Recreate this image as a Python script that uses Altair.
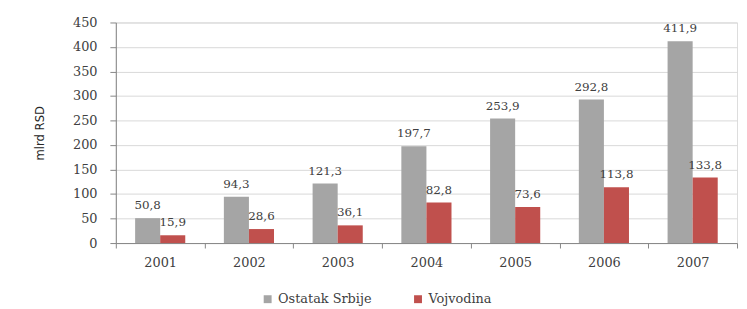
import altair as alt
import pandas as pd

years = ["2001", "2002", "2003", "2004", "2005", "2006", "2007"]
ostatak_srbije = [50.8, 94.3, 121.3, 197.7, 253.9, 292.8, 411.9]
vojvodina = [15.9, 28.6, 36.1, 82.8, 73.6, 113.8, 133.8]
series_names = ["Ostatak Srbije", "Vojvodina"]
series_colors = ["#A5A5A5", "#C0504D"]
y_ticks = [0, 50, 100, 150, 200, 250, 300, 350, 400, 450]
y_title = "mlrd RSD"

rows = []
for i, yr in enumerate(years):
    rows.append({"year": yr, "series": series_names[0], "value": ostatak_srbije[i]})
    rows.append({"year": yr, "series": series_names[1], "value": vojvodina[i]})
df = pd.DataFrame(rows)

serif = "DejaVu Serif"
axis_gray = "#868686"
text_col = "#404040"

x_enc = alt.X(
    "year:N", sort=years, title=None,
    scale=alt.Scale(paddingInner=0, paddingOuter=0),
    axis=alt.Axis(labelAngle=0, labelFont=serif, labelFontSize=13, labelColor=text_col,
                  labelPadding=9, tickBand="extent", tickSize=5, tickColor=axis_gray,
                  domainColor=axis_gray, grid=False),
)
xoff_enc = alt.XOffset("series:N", sort=series_names,
                       scale=alt.Scale(paddingInner=0, paddingOuter=0.77))
y_enc = alt.Y(
    "value:Q", title=y_title,
    scale=alt.Scale(domain=[0, 450], nice=False),
    axis=alt.Axis(values=y_ticks, labelFont=serif, labelFontSize=13, labelColor=text_col,
                  tickSize=6, labelPadding=13, tickColor=axis_gray, domainColor=axis_gray,
                  gridColor="#D9D9D9", titleFont="DejaVu Sans Condensed",
                  titleFontSize=13, titleFontWeight="normal", titleColor="#262626", titlePadding=26),
)
color_enc = alt.Color(
    "series:N", sort=series_names,
    scale=alt.Scale(domain=series_names, range=series_colors),
    legend=alt.Legend(title=None, orient="none", legendX=147, legendY=273, direction="horizontal",
                      symbolType="square", symbolSize=64, symbolStrokeWidth=0,
                      labelFont=serif, labelFontSize=13, labelColor=text_col, columnPadding=40,
                      labelOffset=4),
)

base = alt.Chart(df)
bars = base.mark_bar().encode(x=x_enc, xOffset=xoff_enc, y=y_enc, color=color_enc)
labels = base.transform_calculate(
    label="replace(format(datum.value, '.1f'), '.', ',')"
).mark_text(baseline="bottom", dy=-6, font=serif, fontSize=12, color=text_col).encode(
    x=x_enc, xOffset=xoff_enc, y=y_enc, text="label:N"
)

chart = alt.layer(bars, labels).properties(
    width=628, height=223,
    autosize=alt.AutoSizeParams(type="none"),
    padding={"left": 109, "top": 13, "right": 2, "bottom": 63},
).configure_view(stroke=None).configure_legend(
    labelFont=serif, labelFontSize=13
).configure(background="white")

chart.save("out.html", embed_options={"renderer": "svg", "actions": False})
